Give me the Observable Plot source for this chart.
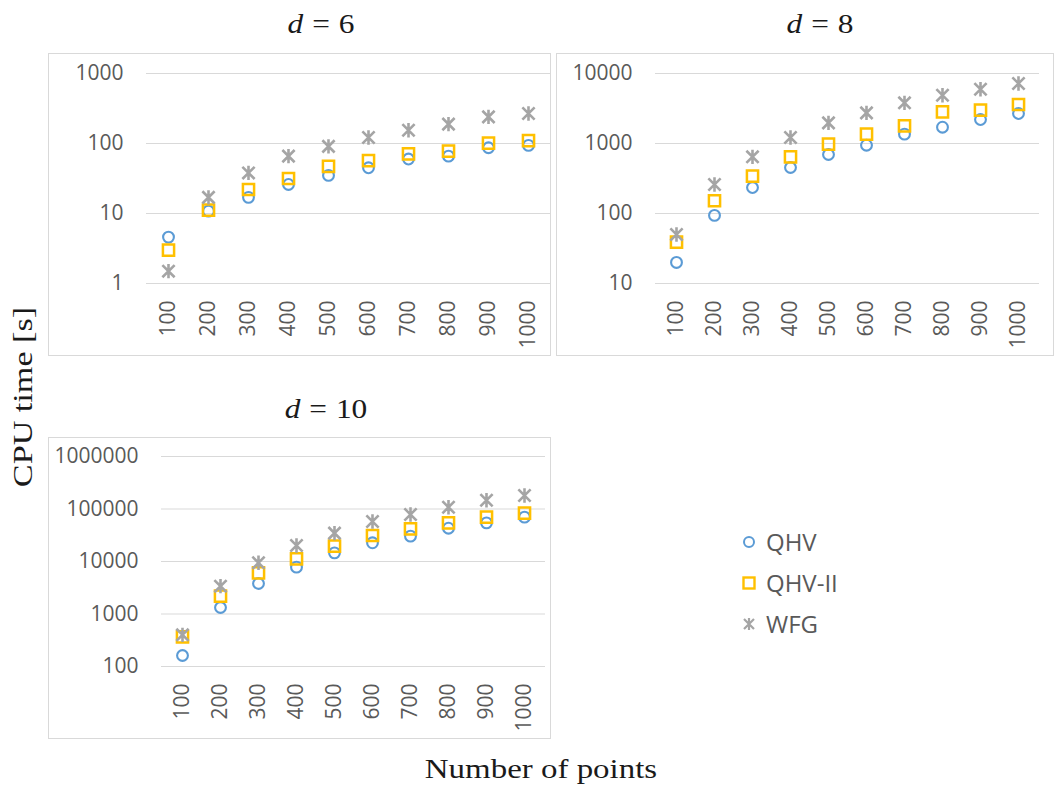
<!DOCTYPE html>
<html>
<head>
<meta charset="utf-8">
<script src="https://cdn.jsdelivr.net/npm/d3@7"></script>
<script src="https://cdn.jsdelivr.net/npm/@observablehq/plot@0.6"></script>
<style>
  html, body { margin: 0; padding: 0; background: #fff; }
  #root { position: relative; width: 1054px; height: 793px; overflow: hidden; background: #fff; }
  .frame { position: absolute; box-sizing: border-box; border: 1px solid #d9d9d9; pointer-events: none; }
  .tex { position: absolute; white-space: nowrap; line-height: 1; font-family: "Liberation Serif", "Times New Roman", serif; color: #1a1a1a; font-weight: 400; }
  .legend-item { position: absolute; display: flex; align-items: center; font-family: "Open Sans", sans-serif; font-size: 24px; color: #595959; line-height: 1; }
</style>
</head>
<body>
<div id="root"></div>
<script>
// ---- data ----
const nPoints = [100, 200, 300, 400, 500, 600, 700, 800, 900, 1000];
const seriesNames = ["QHV", "QHV-II", "WFG"];

const qhvD6   = [4.6, 10.8, 17, 26, 35, 45, 60, 66, 87, 94];
const qhv2D6  = [3.0, 11.2, 22, 31.6, 47, 57, 71, 78, 101, 110];
const wfgD6   = [1.5, 17, 38, 66, 91, 122, 155, 189, 240, 268];

const qhvD8   = [20, 94, 235, 454, 697, 946, 1360, 1710, 2200, 2680];
const qhv2D8  = [39, 152, 341, 645, 980, 1360, 1790, 2830, 2990, 3610];
const wfgD8   = [50, 260, 645, 1220, 1970, 2740, 3810, 4900, 5970, 7200];

const qhvD10  = [162, 1330, 3810, 7800, 14600, 22700, 30400, 43100, 54500, 69900];
const qhv2D10 = [367, 2190, 6080, 11200, 19600, 31300, 41900, 54500, 69900, 83400];
const wfgD10  = [401, 3390, 9440, 20200, 34700, 57800, 78500, 108000, 147000, 181000];

const yTicksD6  = [1, 10, 100, 1000];
const yTicksD8  = [10, 100, 1000, 10000];
const yTicksD10 = [100, 1000, 10000, 100000, 1000000];

const panelTitles = ["6", "8", "10"];
const xLabel = "Number of points";
const yLabel = "CPU time [s]";

// ---- styling ----
const colors = {"QHV": "#5B9BD5", "QHV-II": "#FFC000", "WFG": "#A5A5A5"};
const excelStar = {
  draw(ctx, size) {
    const r = Math.sqrt(size / Math.PI);
    const a = r * 0.85;
    ctx.moveTo(0, -r); ctx.lineTo(0, r);
    ctx.moveTo(-a, -a); ctx.lineTo(a, a);
    ctx.moveTo(-a, a); ctx.lineTo(a, -a);
  }
};

const root = document.getElementById("root");

function rows(values) {
  return nPoints.map((n, i) => ({n, t: values[i]}));
}

function panel(cfg) {
  const chart = Plot.plot({
    width: cfg.width,
    height: cfg.height,
    marginLeft: cfg.ml,
    marginRight: cfg.mr,
    marginTop: cfg.mt,
    marginBottom: cfg.mb,
    style: {fontFamily: "'Open Sans', sans-serif", fontSize: "21px", color: "#595959", background: "#fff", overflow: "visible"},
    x: {type: "point", domain: nPoints, padding: 0.5, tickRotate: -90, tickSize: 0, tickPadding: 17, tickFormat: d => String(d), label: null},
    y: {type: "log", domain: cfg.domain, ticks: cfg.ticks, tickFormat: d => String(d), tickSize: 0, tickPadding: 23, label: null},
    marks: [
      Plot.ruleY(cfg.ticks, {stroke: "#d9d9d9", strokeWidth: 1}),
      Plot.dot(rows(cfg.qhv), {x: "n", y: "t", symbol: "circle", r: 5.4, fill: "none", stroke: colors["QHV"], strokeWidth: 2.1}),
      Plot.dot(rows(cfg.qhv2), {x: "n", y: "t", symbol: "square", r: 6.3, fill: "none", stroke: colors["QHV-II"], strokeWidth: 2.5}),
      Plot.dot(rows(cfg.wfg), {x: "n", y: "t", symbol: excelStar, r: 7.2, fill: "none", stroke: colors["WFG"], strokeWidth: 2.6})
    ]
  });
  chart.style.position = "absolute";
  chart.style.left = cfg.left + "px";
  chart.style.top = cfg.top + "px";
  chart.style.maxWidth = "none";
  root.appendChild(chart);
  const fr = document.createElement("div");
  fr.className = "frame";
  fr.style.left = cfg.left + "px";
  fr.style.top = cfg.top + "px";
  fr.style.width = cfg.width + "px";
  fr.style.height = cfg.height + "px";
  root.appendChild(fr);
}

panel({left: 48, top: 53, width: 503, height: 303, ml: 98, mr: 1, mt: 20, mb: 73,
       domain: [1, 1000], ticks: yTicksD6, qhv: qhvD6, qhv2: qhv2D6, wfg: wfgD6});
panel({left: 556, top: 53, width: 498, height: 303, ml: 99, mr: 15, mt: 20, mb: 73,
       domain: [10, 10000], ticks: yTicksD8, qhv: qhvD8, qhv2: qhv2D8, wfg: wfgD8});
panel({left: 48, top: 437, width: 503, height: 302, ml: 113, mr: 6, mt: 19, mb: 73,
       domain: [100, 1000000], ticks: yTicksD10, qhv: qhvD10, qhv2: qhv2D10, wfg: wfgD10});

// ---- LaTeX-like labels ----
function tex(html, cx, cy, size, transformExtra) {
  const el = document.createElement("div");
  el.className = "tex";
  el.innerHTML = html;
  el.style.left = cx + "px";
  el.style.top = cy + "px";
  el.style.fontSize = size + "px";
  el.style.transform = "translate(-50%, -50%) " + transformExtra;
  root.appendChild(el);
}
const titleHtml = v => `<i>d</i>&#8202;&#8201;=&#8201;&#8202;${v}`;
tex(titleHtml(panelTitles[0]), 321, 24, 28, "scaleX(1.12)");
tex(titleHtml(panelTitles[1]), 820, 24, 28, "scaleX(1.12)");
tex(titleHtml(panelTitles[2]), 326, 409, 28, "scaleX(1.12)");
tex(xLabel, 541, 769, 27, "scaleX(1.22)");
tex(yLabel, 23, 397, 28, "rotate(-90deg) scaleX(1.22)");

// ---- legend ----
const legendY = [542, 583, 624];
const swatch = {
  "QHV": `<svg width="16" height="16" viewBox="-8 -8 16 16"><circle r="5" fill="none" stroke="${colors["QHV"]}" stroke-width="2"/></svg>`,
  "QHV-II": `<svg width="16" height="16" viewBox="-8 -8 16 16"><rect x="-5.5" y="-5.5" width="11" height="11" fill="none" stroke="${colors["QHV-II"]}" stroke-width="2.4"/></svg>`,
  "WFG": `<svg width="16" height="16" viewBox="-8 -8 16 16"><path d="M0,-6V6M-5,-5L5,5M-5,5L5,-5" fill="none" stroke="${colors["WFG"]}" stroke-width="2.2"/></svg>`
};
seriesNames.forEach((name, i) => {
  const el = document.createElement("div");
  el.className = "legend-item";
  el.style.left = "741px";
  el.style.top = (legendY[i] - 12) + "px";
  el.style.height = "24px";
  el.innerHTML = swatch[name] + `<span style="margin-left:9px">${name}</span>`;
  root.appendChild(el);
});
</script>
</body>
</html>
